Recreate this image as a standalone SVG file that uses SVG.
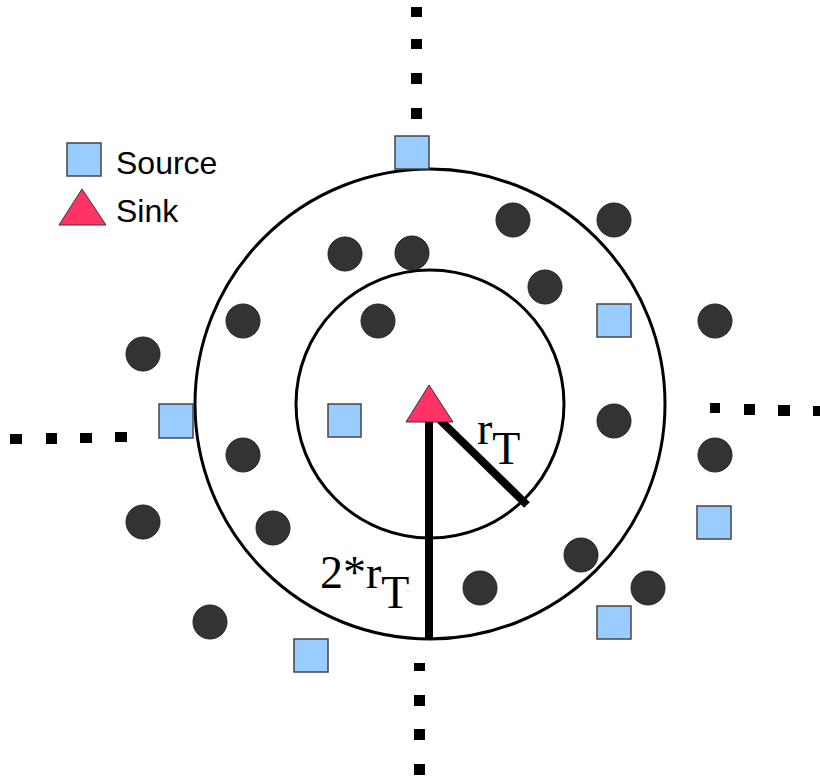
<svg xmlns="http://www.w3.org/2000/svg" width="820" height="780" viewBox="0 0 820 780">
<style>
.ring{fill:none;stroke:#000;stroke-width:3}
.src{fill:#99ccff;stroke:#444;stroke-width:1.5}
.node{fill:#333333;stroke:#222;stroke-width:1}
.sink{fill:#ff3366;stroke:#333;stroke-width:1}
.dot{fill:#000}
.lbl{font-family:"Liberation Sans",Arial,sans-serif;font-size:32px;fill:#000}
.math{font-family:"Liberation Serif","Times New Roman",serif;font-size:46px;fill:#000}
.rad{stroke:#000;stroke-width:8;fill:none}
</style>
<rect width="820" height="780" fill="#fff"/>
<g id="rings">
<circle class="ring" cx="430" cy="404" r="235"/>
<circle class="ring" cx="430" cy="404" r="134"/>
</g>
<g id="connectors">
<g id="dots-top">
<rect class="dot" x="411" y="7" width="11" height="10"/>
<rect class="dot" x="411" y="39" width="11" height="10"/>
<rect class="dot" x="411" y="73" width="11" height="11"/>
<rect class="dot" x="411" y="108" width="11" height="11"/>
</g>
<g id="dots-left">
<rect class="dot" x="10" y="434" width="12" height="10"/>
<rect class="dot" x="46" y="433" width="11" height="11"/>
<rect class="dot" x="80" y="433" width="12" height="10"/>
<rect class="dot" x="115" y="432" width="12" height="10"/>
</g>
<g id="dots-right">
<rect class="dot" x="710" y="403" width="10" height="10"/>
<rect class="dot" x="744" y="404" width="11" height="11"/>
<rect class="dot" x="778" y="405" width="12" height="11"/>
<rect class="dot" x="813" y="406" width="10" height="10"/>
</g>
<g id="dots-bottom">
<rect class="dot" x="414" y="663" width="11" height="8"/>
<rect class="dot" x="414" y="695" width="11" height="11"/>
<rect class="dot" x="414" y="729" width="11" height="11"/>
<rect class="dot" x="414" y="764" width="11" height="11"/>
</g>
<line id="radius-2rT" class="rad" x1="429" y1="420" x2="429" y2="638"/>
<line id="radius-rT" class="rad" x1="440" y1="420" x2="527" y2="505"/>
</g>
<g id="sources">
<rect id="src1" class="src" x="395" y="136" width="34" height="33"/>
<rect id="src2" class="src" x="159" y="404" width="34" height="34"/>
<rect id="src3" class="src" x="328" y="404" width="33" height="33"/>
<rect id="src4" class="src" x="597" y="304" width="34" height="33"/>
<rect id="src5" class="src" x="697" y="506" width="34" height="33"/>
<rect id="src6" class="src" x="597" y="606" width="34" height="33"/>
<rect id="src7" class="src" x="294" y="639" width="34" height="33"/>
</g>
<g id="nodes">
<circle id="n1" class="node" cx="513" cy="220" r="17"/>
<circle id="n2" class="node" cx="614" cy="220" r="17"/>
<circle id="n3" class="node" cx="345" cy="254" r="17"/>
<circle id="n4" class="node" cx="412" cy="253" r="17"/>
<circle id="n5" class="node" cx="545" cy="287" r="17"/>
<circle id="n6" class="node" cx="243" cy="321" r="17"/>
<circle id="n7" class="node" cx="378" cy="321" r="17"/>
<circle id="n8" class="node" cx="715" cy="321" r="17"/>
<circle id="n9" class="node" cx="143" cy="354" r="17"/>
<circle id="n10" class="node" cx="614" cy="421" r="17"/>
<circle id="n11" class="node" cx="243" cy="455" r="17"/>
<circle id="n12" class="node" cx="715" cy="455" r="17"/>
<circle id="n13" class="node" cx="143" cy="522" r="17"/>
<circle id="n14" class="node" cx="273" cy="528" r="17"/>
<circle id="n15" class="node" cx="581" cy="555" r="17"/>
<circle id="n16" class="node" cx="480" cy="588" r="17"/>
<circle id="n17" class="node" cx="648" cy="588" r="17"/>
<circle id="n18" class="node" cx="210" cy="622" r="17"/>
</g>
<g id="sink">
<polygon class="sink" points="429,385 406,422 453,422"/>
</g>
<g id="label-rT">
<text class="math" x="477" y="444">r<tspan dy="20">T</tspan></text>
</g>
<g id="label-2rT">
<text class="math" x="320" y="588">2*r<tspan dy="20">T</tspan></text>
</g>
<g id="legend">
<rect class="src" x="67" y="143" width="34" height="33"/>
<text class="lbl" x="116" y="174">Source</text>
<polygon class="sink" points="82,189 59,225 106,225"/>
<text class="lbl" x="116" y="222">Sink</text>
</g>
</svg>
